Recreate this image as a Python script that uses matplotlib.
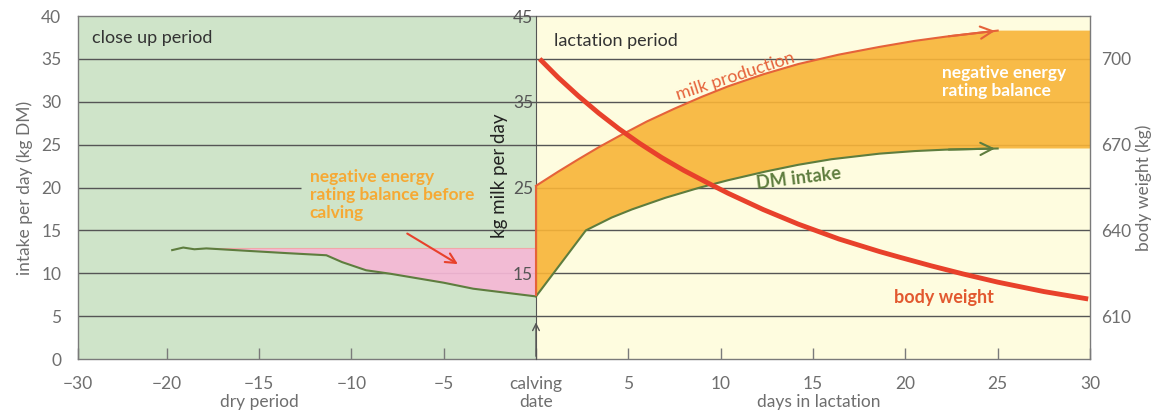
import numpy as np
import matplotlib
matplotlib.use('Agg')
import matplotlib.pyplot as plt

plt.rcParams['font.family'] = ['Lato', 'DejaVu Sans']

# DM intake before calving (days, kg DM)
pre_days = [-19.7, -19.1, -18.5, -17.85, -15.5, -13.5, -11.35, -10.5, -9.2, -7.9, -5.0, -3.4, 0.0]
pre_dm = [12.7, 13.0, 12.8, 12.9, 12.6, 12.35, 12.1, 11.3, 10.35, 9.95, 8.9, 8.2, 7.3]
need_before = 13.0  # top of the pink area

# after calving
post_days = [0.0, 2.7, 4.1, 5.2, 7.0, 8.8, 10.4, 12.4, 14.2, 16.0, 18.6, 20.5, 22.2, 25.0]
post_dm = [7.3, 15.0, 16.5, 17.45, 18.8, 19.95, 20.85, 21.85, 22.65, 23.3, 23.95, 24.25, 24.42, 24.55]

milk_days = [0.0, 1.2, 2.3, 3.4, 4.5, 6.0, 7.5, 9.0, 10.4, 12.3, 14.2, 16.4, 18.6, 20.5, 22.2, 25.0]
milk_kg = [25.2, 26.85, 28.3, 29.7, 31.0, 32.7, 34.2, 35.6, 36.8, 38.2, 39.4, 40.5, 41.4, 42.1, 42.6, 43.3]

bw_days = [0.2, 1.2, 2.3, 3.4, 4.5, 5.6, 6.8, 8.0, 9.3, 10.4, 12.3, 14.2, 16.4, 18.6, 19.7, 21.4, 23.1, 25.0, 27.5, 29.9]
bw_kg = [700, 693.5, 687, 681, 675.5, 670.5, 665.5, 661, 656.6, 653, 647.3, 642.2, 637, 632.6, 630.6,
         627.6, 624.8, 621.9, 618.6, 616.0]

x_ticks = [-30, -20, -15, -10, -5, 0, 5, 10, 15, 20, 25, 30]
x_labels = ['\u221230', '\u221220', '\u221215', '\u221210', '\u22125', 'calving\ndate',
            '5', '10', '15', '20', '25', '30']
grid_levels = [5, 10, 15, 20, 25, 30, 35]
milk_ticks = [15, 25, 35, 45]
bw_ticks = [610, 640, 670, 700]

GREEN_BG = '#cfe4c9'
CREAM_BG = '#fefcdf'
GRID = '#555555'
DM_COL = '#5e7d3e'
MILK_COL = '#e5623a'
BW_COL = '#e8412b'
ORANGE = '#f8b437'
PINK = '#f6b8d6'
TXT_ORANGE = '#f6a934'
GRAY = '#6e6e6e'

K = 0.48  # -30..-20 is squeezed on the axis


def fwd(x):
    x = np.asarray(x, dtype=float)
    return np.where(x < -20, -20 + (x + 20) * K, x)


def inv(u):
    u = np.asarray(u, dtype=float)
    return np.where(u < -20, -20 + (u + 20) / K, u)


def to_intake(m):
    return np.asarray(m, dtype=float) - 5


def to_milk(y):
    return np.asarray(y, dtype=float) + 5


fig = plt.figure(figsize=(11.52, 4.12), dpi=100)
ax = fig.add_axes([0.0677, 0.1286, 0.8785, 0.8325])
ax.set_xscale('function', functions=(fwd, inv))
ax.set_xlim(-30, 30)
ax.set_ylim(0, 40)

ax.axvspan(-30, 0, color=GREEN_BG, zorder=0, lw=0)
ax.axvspan(0, 30, color=CREAM_BG, zorder=0, lw=0)

# grid lines, the 20 line on the left stops before the text
for g in grid_levels:
    if g == 20:
        ax.hlines(g, -30, -12.7, color=GRID, lw=1, zorder=1)
        ax.hlines(g, 0, 30, color=GRID, lw=1, zorder=1)
    else:
        ax.hlines(g, -30, 30, color=GRID, lw=1, zorder=1)

# pink area before calving
pre_x = np.array(pre_days)
pre_y = np.array(pre_dm)
m = pre_x >= -17.85
ax.fill_between(pre_x[m], pre_y[m], need_before, color=PINK, alpha=0.92, lw=0, zorder=2)
ax.plot(pre_x[m], np.full(m.sum(), need_before), color='#f2a7a8', lw=0.8, zorder=2)

# orange area between milk and DM intake, continued flat to day 30
milk_y = to_intake(milk_kg)
poly_x = np.concatenate([milk_days, [30, 30], post_days[::-1]])
poly_y = np.concatenate([milk_y, [milk_y[-1], post_dm[-1]], post_dm[::-1]])
ax.fill(poly_x, poly_y, color=ORANGE, alpha=0.9, lw=0, zorder=2)
ax.vlines(0, post_dm[0], milk_y[0], color=MILK_COL, lw=1.5, zorder=4.5)

# DM intake line
ax.plot(pre_days, pre_dm, color=DM_COL, lw=1.5, zorder=4)
ax.plot(post_days, post_dm, color=DM_COL, lw=1.5, zorder=4)
ax.annotate('', xy=(post_days[-1], post_dm[-1]), xytext=(post_days[-2], post_dm[-2]),
            arrowprops=dict(arrowstyle='->', color=DM_COL, lw=1.5, mutation_scale=22), zorder=4)

# milk production line
ax.plot(milk_days, milk_y, color=MILK_COL, lw=1.5, zorder=4)
ax.annotate('', xy=(milk_days[-1], milk_y[-1]), xytext=(milk_days[-2], milk_y[-2]),
            arrowprops=dict(arrowstyle='->', color=MILK_COL, lw=1.5, mutation_scale=22), zorder=4)

# calving arrow
ax.annotate('', xy=(0, 4.6), xytext=(0, 0),
            arrowprops=dict(arrowstyle='->', color=GRID, lw=1, mutation_scale=12), zorder=4)

# axes styling
for s in ax.spines.values():
    s.set_color('#7a7a7a')
    s.set_linewidth(1)
ax.set_xticks(x_ticks)
ax.set_xticklabels(x_labels)
ax.tick_params(axis='x', direction='in', length=8, width=1, color='#7a7a7a',
               labelcolor=GRAY, labelsize=12.5, pad=12)
ax.set_yticks(range(0, 41, 5))
ax.tick_params(axis='y', length=0, labelcolor=GRAY, labelsize=12.5, pad=12)
ax.set_ylabel('intake per day (kg DM)', color=GRAY, fontsize=12.5, labelpad=6)

xt = ax.get_xaxis_transform()
ax.text(-15, -0.125, 'dry period', transform=xt, ha='center', va='center', color=GRAY, fontsize=12.5)
ax.text(15.3, -0.125, 'days in lactation', transform=xt, ha='center', va='center', color=GRAY, fontsize=12.5)

# milk axis on the calving line
frac = float((fwd(0) - fwd(-30)) / (fwd(30) - fwd(-30)))
sec = ax.secondary_yaxis(frac, functions=(to_milk, to_intake))
sec.set_zorder(3.5)
sec.set_yticks(milk_ticks)
sec.tick_params(length=0, labelcolor='#555555', labelsize=12.5, pad=2)
sec.spines['left'].set_color(GRID)
sec.spines['right'].set_visible(False)
ax.text(-1.95, 21.4, 'kg milk per day', rotation=90, ha='center', va='center',
        color='#222222', fontsize=13.5, zorder=5)

# body weight on right axis
ax2 = ax.twinx()
ax2.set_ylim(to_milk(0) * 3 + 580, to_milk(40) * 3 + 580)
ax2.plot(bw_days, bw_kg, color=BW_COL, lw=3.5, solid_capstyle='butt', zorder=5)
ax2.set_yticks(bw_ticks)
ax2.tick_params(axis='y', length=0, labelcolor=GRAY, labelsize=12.5, pad=8)
for s in ax2.spines.values():
    s.set_visible(False)
ax2.set_ylabel('body weight (kg)', color=GRAY, fontsize=12.5, labelpad=3)

# texts
ax.text(0.014, 0.936, 'close up period', transform=ax.transAxes, ha='left', va='center',
        color='#333333', fontsize=13)
ax.text(1.0, 37.1, 'lactation period', ha='left', va='center', color='#333333', fontsize=13)
ax.text(10.8, 33.0, 'milk production', rotation=18, ha='center', va='center',
        color=MILK_COL, fontsize=13, zorder=6)
ax.text(14.2, 21.1, 'DM intake', rotation=7, ha='center', va='center',
        color=DM_COL, fontsize=13, fontweight='bold', zorder=6)
ax.text(22.1, 7.2, 'body weight', ha='center', va='center',
        color='#e2582f', fontsize=13, fontweight='bold', zorder=6)
ax.text(22.0, 32.3, 'negative energy\nrating balance', ha='left', va='center',
        color='white', fontsize=12.5, fontweight='bold', linespacing=1.15, zorder=6)
ax.text(-12.25, 22.2, 'negative energy\nrating balance before\ncalving', ha='left', va='top',
        color=TXT_ORANGE, fontsize=12.5, fontweight='bold', linespacing=1.15, zorder=6)
ax.annotate('', xy=(-4.1, 10.9), xytext=(-7.1, 14.8),
            arrowprops=dict(arrowstyle='->', color=BW_COL, lw=1.5, mutation_scale=18), zorder=6)

fig.savefig('out.png', dpi=100, facecolor='white')
